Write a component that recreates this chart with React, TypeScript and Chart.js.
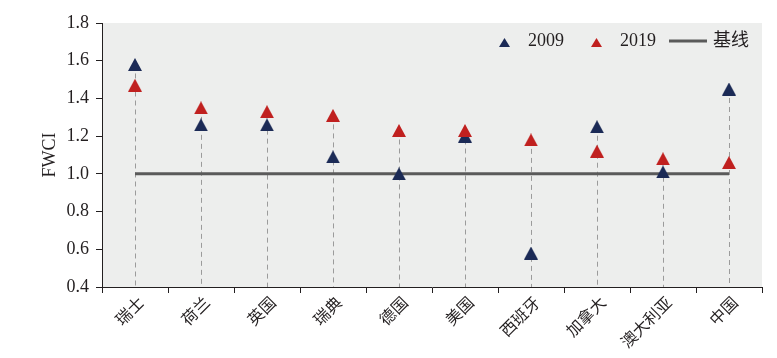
import React, { useEffect, useRef } from 'react';
import { Chart, registerables } from 'chart.js';

Chart.register(...registerables);

const categories = ['瑞士', '荷兰', '英国', '瑞典', '德国', '美国', '西班牙', '加拿大', '澳大利亚', '中国'];
const fwci2009 = [1.58, 1.26, 1.26, 1.09, 1.0, 1.2, 0.58, 1.25, 1.01, 1.45];
const fwci2019 = [1.47, 1.35, 1.33, 1.31, 1.23, 1.23, 1.18, 1.12, 1.08, 1.06];
const baselineValues = [1, 1, 1, 1, 1, 1, 1, 1, 1, 1];
const seriesLabels = ['2009', '2019', '基线'];
const yMin = 0.4;
const yMax = 1.8;
const yStep = 0.2;
const yTitle = 'FWCI';

const NAVY = '#1b2a56';
const RED = '#c0201f';
const LINE_GREY = '#5a5a5a';
const INK = '#231f20';
const BG = '#edeeed';
const FAMILY = '"Liberation Serif", "Noto Sans CJK SC", serif';

function makeTriangle(color: string, w: number, h: number) {
  const c = document.createElement('canvas');
  c.width = w;
  c.height = h;
  const ctx = c.getContext('2d')!;
  ctx.fillStyle = color;
  ctx.beginPath();
  ctx.moveTo(w / 2, 0);
  ctx.lineTo(w, h);
  ctx.lineTo(0, h);
  ctx.closePath();
  ctx.fill();
  return c;
}

const bgPlugin = {
  id: 'bgPlugin',
  beforeDraw(chart: any) {
    const { ctx, chartArea } = chart;
    ctx.save();
    ctx.fillStyle = BG;
    ctx.fillRect(chartArea.left, chartArea.top, chartArea.right - chartArea.left, chartArea.bottom - chartArea.top);
    ctx.restore();
  },
};

const stemPlugin = {
  id: 'stemPlugin',
  beforeDatasetsDraw(chart: any) {
    const { ctx, chartArea, scales } = chart;
    const a = chart.data.datasets[0].data as number[];
    const b = chart.data.datasets[1].data as number[];
    ctx.save();
    ctx.strokeStyle = '#9b9b9b';
    ctx.lineWidth = 1;
    ctx.setLineDash([5, 4]);
    for (let i = 0; i < a.length; i++) {
      const x = Math.round(scales.x.getPixelForValue(i)) + 0.5;
      const yTop = scales.y.getPixelForValue(Math.max(a[i], b[i]));
      ctx.beginPath();
      ctx.moveTo(x, yTop);
      ctx.lineTo(x, chartArea.bottom);
      ctx.stroke();
    }
    ctx.restore();
  },
};

const legendPlugin = {
  id: 'legendPlugin',
  afterDraw(chart: any) {
    const { ctx, chartArea } = chart;
    const ds = chart.data.datasets;
    ctx.save();
    ctx.font = `18px ${FAMILY}`;
    ctx.textBaseline = 'middle';
    ctx.fillStyle = INK;
    const w = ds.map((d: any) => ctx.measureText(d.label).width);
    const total = 11 + 18 + w[0] + 27 + 11 + 18 + w[1] + 13 + 38 + 6 + w[2];
    let x = chartArea.right - 13 - total;
    const y = chartArea.top + 18;
    const tri = (color: string) => {
      ctx.fillStyle = color;
      ctx.beginPath();
      ctx.moveTo(x + 5.5, y - 3);
      ctx.lineTo(x + 11, y + 6);
      ctx.lineTo(x, y + 6);
      ctx.closePath();
      ctx.fill();
    };
    tri(ds[0].borderColor);
    x += 11 + 18;
    ctx.fillStyle = INK;
    ctx.fillText(ds[0].label, x, y);
    x += w[0] + 27;
    tri(ds[1].borderColor);
    x += 11 + 18;
    ctx.fillStyle = INK;
    ctx.fillText(ds[1].label, x, y);
    x += w[1] + 13;
    ctx.strokeStyle = ds[2].borderColor;
    ctx.lineWidth = 3;
    ctx.beginPath();
    ctx.moveTo(x, y);
    ctx.lineTo(x + 38, y);
    ctx.stroke();
    x += 38 + 6;
    ctx.fillStyle = INK;
    ctx.fillText(ds[2].label, x, y);
    ctx.restore();
  },
};

export default function App() {
  const ref = useRef<HTMLCanvasElement>(null);
  useEffect(() => {
    if (!ref.current) return;
    const triNavy = makeTriangle(NAVY, 14, 13);
    const triRed = makeTriangle(RED, 14, 13);
    const chart = new Chart(ref.current, {
      type: 'line',
      data: {
        labels: categories,
        datasets: [
          {
            label: seriesLabels[0],
            data: fwci2009,
            showLine: false,
            pointStyle: triNavy as any,
            pointRadius: 7,
            borderColor: NAVY,
            backgroundColor: NAVY,
            order: 2,
          },
          {
            label: seriesLabels[1],
            data: fwci2019,
            showLine: false,
            pointStyle: triRed as any,
            pointRadius: 7,
            borderColor: RED,
            backgroundColor: RED,
            order: 1,
          },
          {
            label: seriesLabels[2],
            data: baselineValues,
            borderColor: LINE_GREY,
            borderWidth: 3,
            pointRadius: 0,
            order: 3,
          },
        ],
      },
      options: {
        animation: false,
        responsive: true,
        maintainAspectRatio: false,
        layout: { padding: { top: 23, right: 15, left: 0, bottom: 0 } },
        plugins: {
          legend: { display: false },
          tooltip: { enabled: false },
        },
        scales: {
          x: {
            offset: true,
            grid: { offset: true, drawOnChartArea: false, drawTicks: true, tickLength: 6, color: INK, lineWidth: 1 },
            border: { display: true, color: INK, width: 1 },
            ticks: {
              autoSkip: false,
              maxRotation: 45,
              minRotation: 45,
              padding: 1,
              labelOffset: 7,
              color: INK,
              font: { family: FAMILY, size: 16 },
            },
            afterFit: (s: any) => {
              s.height = 71;
            },
          },
          y: {
            min: yMin,
            max: yMax,
            ticks: {
              stepSize: yStep,
              padding: 7,
              color: INK,
              font: { family: FAMILY, size: 18 },
              callback: (v: any) => Number(v).toFixed(1),
            },
            grid: { drawOnChartArea: false, drawTicks: true, tickLength: 6, color: INK },
            border: { display: true, color: INK, width: 1 },
            title: {
              display: true,
              text: yTitle,
              color: INK,
              font: { family: FAMILY, size: 18 },
              padding: { top: 39, bottom: 0 },
            },
            afterFit: (s: any) => {
              s.width = 102;
            },
          },
        },
      },
      plugins: [bgPlugin, stemPlugin, legendPlugin],
    });
    return () => chart.destroy();
  }, []);
  return (
    <div style={{ position: 'absolute', left: 0, top: 0, width: 777, height: 358 }}>
      <canvas ref={ref} />
    </div>
  );
}
